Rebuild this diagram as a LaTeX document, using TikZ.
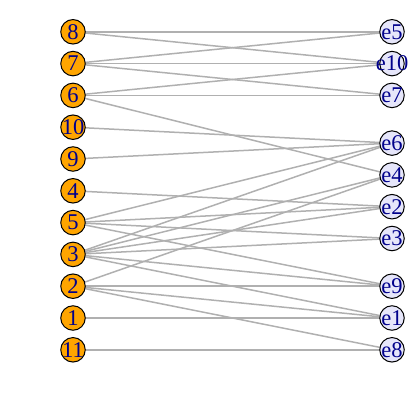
\documentclass[tikz,border=0pt]{standalone}
\usepackage{fontspec}
\setmainfont{Liberation Serif}
\usetikzlibrary{backgrounds}
\definecolor{vorange}{HTML}{FFA500}
\definecolor{vlav}{HTML}{E6E6FA}
\definecolor{edgegray}{HTML}{B0B0B0}
\definecolor{dblue}{HTML}{00008B}
\begin{document}
\begin{tikzpicture}[x=1pt,y=-1pt,
  edge/.style={draw=edgegray, line width=1.5pt},
  lv/.style={circle, draw=black, line width=1pt, fill=vorange, minimum size=24.5pt, inner sep=0pt, text=dblue, font=\fontsize{22.5}{22.5}\selectfont},
  rv/.style={lv, fill=vlav}]
\useasboundingbox (0,0) rectangle (419,409);
% left layer
\node[lv] (v8)  at (73,31.8)  {\makebox[0pt]{8}};
\node[lv] (v7)  at (73,63.6)  {\makebox[0pt]{7}};
\node[lv] (v6)  at (73,95.4)  {\makebox[0pt]{6}};
\node[lv] (v10) at (73,127.2) {\makebox[0pt]{10}};
\node[lv] (v9)  at (73,159)   {\makebox[0pt]{9}};
\node[lv] (v4)  at (73,190.8) {\makebox[0pt]{4}};
\node[lv] (v5)  at (73,222.6) {\makebox[0pt]{5}};
\node[lv] (v3)  at (73,254.4) {\makebox[0pt]{3}};
\node[lv] (v2)  at (73,286.2) {\makebox[0pt]{2}};
\node[lv] (v1)  at (73,318)   {\makebox[0pt]{1}};
\node[lv] (v11) at (73,349.8) {\makebox[0pt]{11}};
% right layer
\node[rv] (e5)  at (392,31.8)  {\makebox[0pt]{e5}};
\node[rv] (e10) at (392,63.6)  {\makebox[0pt]{e10}};
\node[rv] (e7)  at (392,95.4)  {\makebox[0pt]{e7}};
\node[rv] (e6)  at (392,143.1) {\makebox[0pt]{e6}};
\node[rv] (e4)  at (392,174.9) {\makebox[0pt]{e4}};
\node[rv] (e2)  at (392,206.7) {\makebox[0pt]{e2}};
\node[rv] (e3)  at (392,238.5) {\makebox[0pt]{e3}};
\node[rv] (e9)  at (392,286.2) {\makebox[0pt]{e9}};
\node[rv] (e1)  at (392,318)   {\makebox[0pt]{e1}};
\node[rv] (e8)  at (392,349.8) {\makebox[0pt]{e8}};
\begin{scope}[on background layer]
\foreach \a/\b in {v8/e5,v8/e10,v7/e5,v7/e10,v7/e7,v6/e10,v6/e7,v6/e4,
  v10/e6,v9/e6,v4/e2,v5/e6,v5/e2,v5/e3,v5/e9,
  v3/e6,v3/e4,v3/e2,v3/e3,v3/e9,v3/e1,
  v2/e4,v2/e9,v2/e1,v2/e8,v1/e1,v11/e8}
  \draw[edge] (\a.center) -- (\b.center);
\end{scope}
\end{tikzpicture}
\end{document}
